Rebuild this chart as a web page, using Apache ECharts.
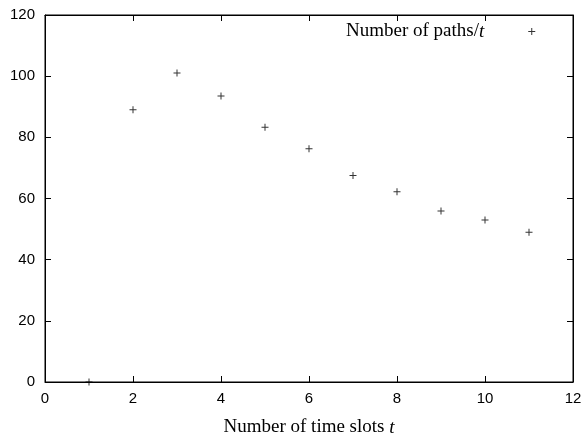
<!DOCTYPE html>
<html>
<head>
<meta charset="utf-8">
<script src="https://cdn.jsdelivr.net/npm/echarts@6/dist/echarts.min.js"></script>
<style>html,body{margin:0;padding:0;background:#fff}#c{width:584px;height:434px}</style>
</head>
<body>
<div id="c"></div>
<script>
var timeSlots = [1, 2, 3, 4, 5, 6, 7, 8, 9, 10, 11];
var pathsPerT = [0, 89, 101, 93.5, 83.3, 76.3, 67.5, 62.2, 55.9, 53, 49];
var xTicks = [0, 2, 4, 6, 8, 10, 12];
var yTicks = [0, 20, 40, 60, 80, 100, 120];

var plus = 'path://M0,3H7V4H0Z M3,0H4V7H3Z';
var sans = 'Liberation Sans';
var serif = 'Liberation Serif';

function tickStyle() { return {show: true, inside: true, length: 6, lineStyle: {color: '#000', width: 1}}; }
function lineStyle() { return {show: true, onZero: false, lineStyle: {color: '#000', width: 1}}; }

var chart = echarts.init(document.getElementById('c'), null, {renderer: 'canvas'});
chart.setOption({
  animation: false,
  backgroundColor: '#fff',
  grid: {left: 45, right: 11, top: 15, bottom: 52, show: true, borderColor: '#000', borderWidth: 1,
         backgroundColor: 'transparent', containLabel: false, outerBoundsMode: 'none'},
  legend: {
    show: true,
    left: 341, top: 17,
    align: 'right',
    itemWidth: 7, itemHeight: 7,
    icon: plus,
    itemStyle: {color: '#000'},
    data: ['Number of paths/t'],
    formatter: function () { return '{a|Number of paths/}{b|t}'; },
    textStyle: {
      fontFamily: serif, fontSize: 19, color: '#000',
      rich: {
        a: {fontFamily: serif, fontSize: 19, color: '#000'},
        b: {fontFamily: serif, fontSize: 19, color: '#000', fontStyle: 'italic', padding: [0, 39, 0, 0]}
      }
    }
  },
  xAxis: [{
    type: 'value', gridIndex: 0, min: xTicks[0], max: xTicks[xTicks.length - 1], interval: 2,
    position: 'bottom',
    axisLine: lineStyle(), axisTick: tickStyle(), splitLine: {show: false},
    axisLabel: {fontFamily: sans, fontSize: 15, color: '#000', margin: 9},
    name: 'Number of time slots {t|t}',
    nameLocation: 'middle', nameGap: 36,
    nameTextStyle: {fontFamily: serif, fontSize: 19, color: '#000', verticalAlign: 'top',
      rich: {t: {fontFamily: serif, fontSize: 19, fontStyle: 'italic', color: '#000'}}}
  }, {
    type: 'value', gridIndex: 0, min: xTicks[0], max: xTicks[xTicks.length - 1], interval: 2,
    position: 'top',
    axisLine: lineStyle(), axisTick: tickStyle(), splitLine: {show: false},
    axisLabel: {show: false}
  }],
  yAxis: [{
    type: 'value', gridIndex: 0, min: yTicks[0], max: yTicks[yTicks.length - 1], interval: 20,
    position: 'left',
    axisLine: lineStyle(), axisTick: tickStyle(), splitLine: {show: false},
    axisLabel: {fontFamily: sans, fontSize: 15, color: '#000', margin: 10}
  }, {
    type: 'value', gridIndex: 0, min: yTicks[0], max: yTicks[yTicks.length - 1], interval: 20,
    position: 'right',
    axisLine: lineStyle(), axisTick: tickStyle(), splitLine: {show: false},
    axisLabel: {show: false}
  }],
  series: [{
    name: 'Number of paths/t',
    type: 'scatter',
    symbol: plus,
    symbolSize: 7,
    itemStyle: {color: '#000'},
    data: timeSlots.map(function (x, i) { return [x, pathsPerT[i]]; })
  }]
});
</script>
</body>
</html>
